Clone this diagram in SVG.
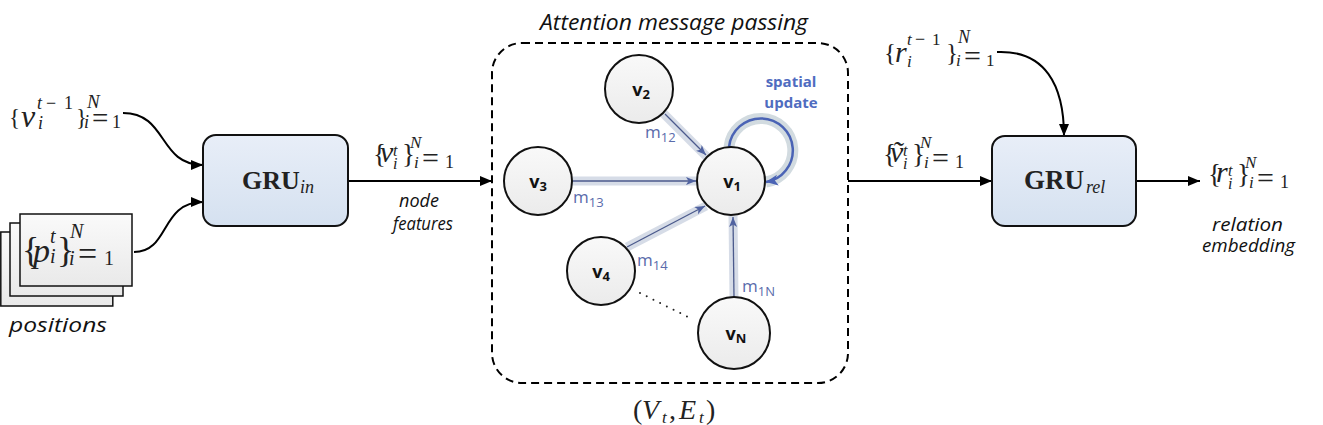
<svg xmlns="http://www.w3.org/2000/svg" width="1323" height="425" viewBox="0 0 1323 425">
<defs>
<style>
.m{font-family:"Liberation Serif","DejaVu Serif",serif;fill:#222}
.it{font-style:italic}
.lbl{font-family:"Open Sans","Liberation Sans",sans-serif;font-style:italic;fill:#111}
.nd{font-family:"Open Sans","Liberation Sans",sans-serif;font-weight:bold;font-size:18px;fill:#111}
.msg{font-family:"Open Sans","Liberation Sans",sans-serif;font-size:17px;fill:#5a6bab}
.sp{font-family:"Open Sans","Liberation Sans",sans-serif;font-weight:bold;font-size:15px;fill:#4f6cc0}
.gru{fill:url(#gblue);stroke:#111;stroke-width:2}
.circ{fill:url(#ggray);stroke:#111;stroke-width:2}
.card{fill:url(#gcard);stroke:#111;stroke-width:1.5}
.conn{fill:none;stroke:#000;stroke-width:2;marker-end:url(#arr)}
.band{fill:none;stroke:#d6dce7;stroke-width:9}
.thin{fill:none;stroke:#4b5a8c;stroke-width:1.3;marker-end:url(#sarr)}
</style>
<linearGradient id="gblue" x1="0" y1="0" x2="0" y2="1"><stop offset="0" stop-color="#e8eef8"/><stop offset="1" stop-color="#d5e1f0"/></linearGradient>
<linearGradient id="ggray" x1="0" y1="0" x2="0" y2="1"><stop offset="0" stop-color="#f9f9f9"/><stop offset="1" stop-color="#ebebeb"/></linearGradient>
<linearGradient id="gcard" x1="0" y1="0" x2="0" y2="1"><stop offset="0" stop-color="#fafafa"/><stop offset="1" stop-color="#e9e9e9"/></linearGradient>
<marker id="arr" markerUnits="userSpaceOnUse" markerWidth="13" markerHeight="11" refX="12" refY="5" orient="auto"><path d="M0,0 L12,5 L0,10 z" fill="#000"/></marker>
<marker id="sarr" markerUnits="userSpaceOnUse" markerWidth="11" markerHeight="9" refX="10" refY="4" orient="auto"><path d="M0,0 L10,4 L0,8 L2.5,4 z" fill="#5062a0"/></marker>
<marker id="barr" markerUnits="userSpaceOnUse" markerWidth="14" markerHeight="12" refX="12" refY="5.5" orient="auto"><path d="M0,0 L12,5.5 L0,11 L3,5.5 z" fill="#4a63b5"/></marker>
</defs>
<rect width="1323" height="425" fill="#fff"/>

<g id="connectors">
<path class="conn" d="M123,113 C168,113 158,165 203,165"/>
<path class="conn" d="M134,252 C170,252 160,202 203,202"/>
<path class="conn" d="M348,181 L492,181"/>
<path class="conn" d="M848,181 L992,181"/>
<path class="conn" d="M997,52 C1045,50 1064,85 1064,136"/>
<path class="conn" d="M1136,181 L1200,181"/>
</g>

<g id="inputs-left">
<text class="m"><tspan x="9" y="125" font-size="23">{</tspan><tspan class="it" x="21" y="127" font-size="32">v</tspan><tspan class="it" x="37" y="109" font-size="18">t</tspan><tspan x="46" y="109" font-size="18">−</tspan><tspan x="64" y="109" font-size="18">1</tspan><tspan class="it" x="38" y="129" font-size="18">i</tspan><tspan x="76" y="125" font-size="23">}</tspan><tspan class="it" x="87" y="108" font-size="19">N</tspan><tspan class="it" x="84" y="128" font-size="18">i</tspan><tspan x="92" y="128" font-size="29">=</tspan><tspan x="112" y="128" font-size="18">1</tspan></text>
</g>

<g id="positions">
<rect class="card" x="0.8" y="232" width="112" height="74"/>
<rect class="card" x="10" y="223" width="113" height="73"/>
<rect class="card" x="20" y="214" width="112" height="72"/>
<text class="m"><tspan x="22" y="262" font-size="36">{</tspan><tspan class="it" x="33" y="262" font-size="34">p</tspan><tspan class="it" x="50" y="243" font-size="20">t</tspan><tspan class="it" x="50" y="263" font-size="20">i</tspan><tspan x="57" y="262" font-size="36">}</tspan><tspan class="it" x="70" y="238" font-size="20">N</tspan><tspan class="it" x="69" y="265" font-size="20">i</tspan><tspan x="78" y="265" font-size="34">=</tspan><tspan x="104" y="265" font-size="20">1</tspan></text>
<text class="lbl" x="9" y="332" font-size="20" textLength="98" lengthAdjust="spacingAndGlyphs">positions</text>
</g>

<g id="gru-in">
<rect class="gru" x="203" y="135" width="145" height="91" rx="13"/>
<text class="m" font-weight="bold"><tspan x="242" y="189" font-size="26">GRU</tspan><tspan class="it" x="300" y="193" font-size="18" font-weight="normal">in</tspan></text>
</g>

<g id="node-features">
<text class="m"><tspan x="373" y="163" font-size="27">{</tspan><tspan class="it" x="380" y="162" font-size="30">v</tspan><tspan class="it" x="393" y="156" font-size="16">t</tspan><tspan class="it" x="393" y="169" font-size="16">i</tspan><tspan x="402" y="163" font-size="27">}</tspan><tspan class="it" x="410" y="148" font-size="17">N</tspan><tspan class="it" x="414" y="168" font-size="17">i</tspan><tspan x="422" y="168" font-size="30">=</tspan><tspan x="445" y="168" font-size="18">1</tspan></text>
<text class="lbl" x="399" y="207" font-size="18" textLength="40" lengthAdjust="spacingAndGlyphs">node</text>
<text class="lbl" x="393" y="230" font-size="18" textLength="60" lengthAdjust="spacingAndGlyphs">features</text>
</g>

<g id="attention-box">
<text class="lbl" x="540" y="30" font-size="21" textLength="268" lengthAdjust="spacingAndGlyphs">Attention message passing</text>
<rect x="492" y="43" width="356" height="340" rx="30" fill="none" stroke="#000" stroke-width="2" stroke-dasharray="8 5"/>
<text class="m"><tspan x="633" y="419" font-size="28">(</tspan><tspan class="it" x="642" y="419" font-size="28">V</tspan><tspan class="it" x="662" y="423" font-size="17">t</tspan><tspan x="669" y="419" font-size="28">,</tspan><tspan class="it" x="679" y="419" font-size="28">E</tspan><tspan class="it" x="699" y="423" font-size="17">t</tspan><tspan x="706" y="419" font-size="28">)</tspan></text>
</g>

<g id="messages">
<path class="band" d="M663,113 L707,157"/>
<path class="thin" d="M665,114 L706,155"/>
<path class="band" d="M572,181 L697,181"/>
<path class="thin" d="M572,181 L696,181"/>
<path class="band" d="M627,247 L706,206"/>
<path class="thin" d="M627,247 L705,206"/>
<path class="band" d="M734,297 L733,216"/>
<path class="thin" d="M734,297 L733,217"/>
<path d="M729,147 A32,32 0 1 1 766,182" fill="none" stroke="#d2dbe0" stroke-width="11"/>
<path d="M729,147 A32,32 0 1 1 766,182" fill="none" stroke="#4a63b5" stroke-width="2.5" marker-end="url(#barr)"/>
<path d="M640,293 L688,317" stroke="#222" stroke-width="2" stroke-dasharray="0 7.5" stroke-linecap="round"/>
<text class="msg" x="645" y="138">m<tspan dy="4" font-size="13">12</tspan></text>
<text class="msg" x="573" y="203">m<tspan dy="4" font-size="13">13</tspan></text>
<text class="msg" x="637" y="266">m<tspan dy="4" font-size="13">14</tspan></text>
<text class="msg" x="742" y="292">m<tspan dy="4" font-size="13">1N</tspan></text>
<text class="sp" x="791" y="87" text-anchor="middle">spatial</text>
<text class="sp" x="791" y="108" text-anchor="middle">update</text>
</g>

<g id="node-v1"><circle class="circ" cx="731" cy="181" r="34"/><text class="nd" x="732" y="188" text-anchor="middle">v<tspan dy="3" font-size="13">1</tspan></text></g>
<g id="node-v2"><circle class="circ" cx="639" cy="89" r="34"/><text class="nd" x="641" y="96" text-anchor="middle">v<tspan dy="3" font-size="13">2</tspan></text></g>
<g id="node-v3"><circle class="circ" cx="538" cy="181" r="34"/><text class="nd" x="538" y="188" text-anchor="middle">v<tspan dy="3" font-size="13">3</tspan></text></g>
<g id="node-v4"><circle class="circ" cx="601" cy="271" r="34"/><text class="nd" x="601" y="278" text-anchor="middle">v<tspan dy="3" font-size="13">4</tspan></text></g>
<g id="node-vN"><circle class="circ" cx="734" cy="333" r="36"/><text class="nd" x="736" y="340" text-anchor="middle">v<tspan dy="3" font-size="13">N</tspan></text></g>

<g id="gru-rel">
<text class="m"><tspan x="884" y="61" font-size="25">{</tspan><tspan class="it" x="895" y="62" font-size="30">r</tspan><tspan class="it" x="907" y="45" font-size="17">t</tspan><tspan x="915" y="45" font-size="18">−</tspan><tspan x="932" y="45" font-size="17">1</tspan><tspan class="it" x="907" y="67" font-size="17">i</tspan><tspan x="946" y="61" font-size="25">}</tspan><tspan class="it" x="958" y="43" font-size="18">N</tspan><tspan class="it" x="956" y="66" font-size="17">i</tspan><tspan x="964" y="66" font-size="30">=</tspan><tspan x="986" y="66" font-size="17">1</tspan></text>
<text class="m"><tspan x="883" y="163" font-size="27">{</tspan><tspan class="it" x="890" y="162" font-size="30">ṽ</tspan><tspan class="it" x="903" y="156" font-size="16">t</tspan><tspan class="it" x="903" y="169" font-size="16">i</tspan><tspan x="912" y="163" font-size="27">}</tspan><tspan class="it" x="920" y="148" font-size="17">N</tspan><tspan class="it" x="924" y="168" font-size="17">i</tspan><tspan x="932" y="168" font-size="30">=</tspan><tspan x="955" y="168" font-size="18">1</tspan></text>
<rect class="gru" x="992" y="136" width="144" height="90" rx="13"/>
<text class="m" font-weight="bold"><tspan x="1024" y="189" font-size="27">GRU</tspan><tspan class="it" x="1086" y="193" font-size="18" font-weight="normal">rel</tspan></text>
</g>

<g id="relation-output">
<text class="m"><tspan x="1208" y="183" font-size="27">{</tspan><tspan class="it" x="1216" y="182" font-size="30">r</tspan><tspan class="it" x="1228" y="176" font-size="16">t</tspan><tspan class="it" x="1228" y="189" font-size="16">i</tspan><tspan x="1237" y="183" font-size="27">}</tspan><tspan class="it" x="1245" y="168" font-size="17">N</tspan><tspan class="it" x="1249" y="188" font-size="17">i</tspan><tspan x="1257" y="188" font-size="30">=</tspan><tspan x="1280" y="188" font-size="18">1</tspan></text>
<text class="lbl" x="1212" y="231" font-size="18" textLength="71" lengthAdjust="spacingAndGlyphs">relation</text>
<text class="lbl" x="1202" y="252" font-size="18" textLength="93" lengthAdjust="spacingAndGlyphs">embedding</text>
</g>
</svg>
